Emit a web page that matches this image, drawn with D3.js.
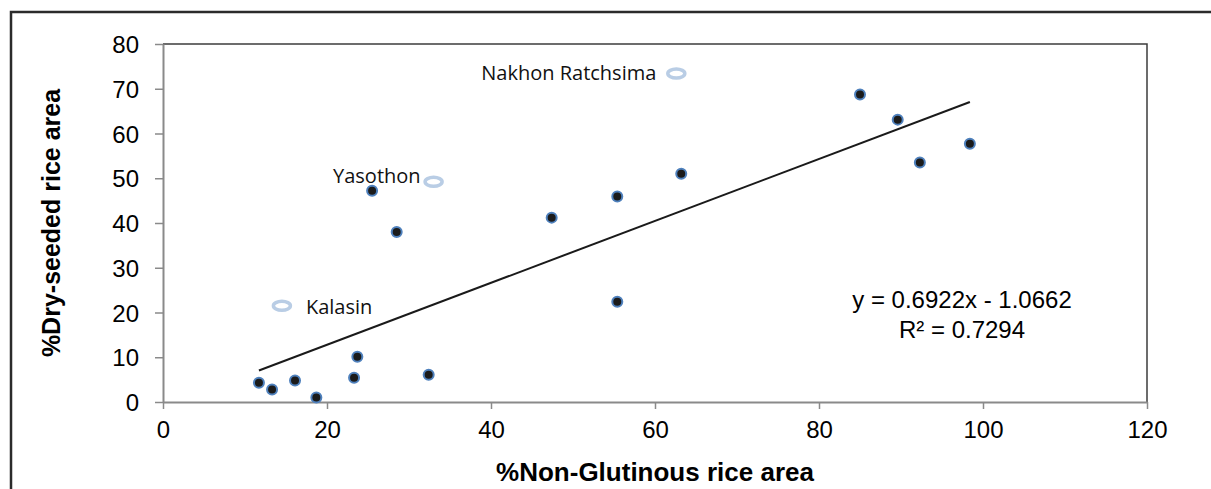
<!DOCTYPE html>
<html>
<head>
<meta charset="utf-8">
<script src="https://cdn.jsdelivr.net/npm/d3@7"></script>
<style>
  body { margin: 0; background: #fff; }
  svg text { font-family: "Liberation Sans", Arial, sans-serif; }
</style>
</head>
<body>
<svg id="chart"></svg>
<script>
// provinces (regression set)
var nonGlutinous = [11.7, 13.3, 16.1, 18.7, 23.3, 23.7, 32.4, 25.5, 28.5, 47.4, 55.4, 63.2, 55.4, 85.0, 89.6, 92.3, 98.4];
var drySeeded = [4.3, 2.8, 4.8, 1.0, 5.4, 10.1, 6.1, 47.2, 38.0, 41.2, 45.9, 51.0, 22.4, 68.7, 63.1, 53.5, 57.7];

// highlighted provinces
var namedProvinces = ["Kalasin", "Yasothon", "Nakhon Ratchsima"];
var namedX = [14.5, 33.0, 62.6];
var namedY = [21.5, 49.2, 73.4];

var xTicks = [0, 20, 40, 60, 80, 100, 120];
var yTicks = [0, 10, 20, 30, 40, 50, 60, 70, 80];

// linear trend
var slope = 0.6922;
var intercept = -1.0662;
var rSquared = 0.7294;

var width = 1211, height = 489;
var margin = { top: 44, right: 64, bottom: 87, left: 163 };
var innerW = width - margin.left - margin.right;
var innerH = height - margin.top - margin.bottom;

var svg = d3.select("#chart").attr("width", width).attr("height", height);

// outer frame (only top and left show)
svg.append("path")
  .attr("d", "M11,489 V12 H1211")
  .attr("fill", "none")
  .attr("stroke", "#2b2b2b")
  .attr("stroke-width", 2.5);

var g = svg.append("g").attr("transform", "translate(" + margin.left + "," + margin.top + ")");

var xScale = d3.scaleLinear().domain([0, 120]).range([0, innerW]);
var yScale = d3.scaleLinear().domain([0, 80]).range([innerH, 0]);

// plot border top/right
g.append("path")
  .attr("d", "M0,0 H" + innerW + " V" + innerH)
  .attr("fill", "none")
  .attr("stroke", "#3c3c3c")
  .attr("stroke-width", 1.5);

var xAxis = d3.axisBottom(xScale).tickValues(xTicks).tickSize(7).tickSizeOuter(0).tickPadding(12);
var gX = g.append("g").attr("transform", "translate(0," + innerH + ")").call(xAxis);
var yAxis = d3.axisLeft(yScale).tickValues(yTicks).tickSize(8).tickSizeOuter(0).tickPadding(16);
var gY = g.append("g").call(yAxis);

[gX, gY].forEach(function (ax) {
  ax.select(".domain").attr("stroke", "#8a8a8a").attr("stroke-width", 2);
  ax.selectAll(".tick line").attr("stroke", "#8a8a8a").attr("stroke-width", 1.5);
  ax.selectAll(".tick text")
    .attr("fill", "#000")
    .style("font-size", "24px")
    .style("font-family", "'Liberation Sans', Arial, sans-serif");
});
gY.selectAll(".tick text").attr("dy", "0.36em");
gX.selectAll(".tick text").attr("dy", "0.71em");

// axis titles
svg.append("text")
  .attr("x", margin.left + innerW / 2)
  .attr("y", 481)
  .attr("text-anchor", "middle")
  .style("font-size", "26px")
  .style("font-weight", "bold")
  .text("%Non-Glutinous rice area");

svg.append("text")
  .attr("transform", "translate(60," + (margin.top + innerH / 2) + ") rotate(-90)")
  .attr("text-anchor", "middle")
  .style("font-size", "25px")
  .style("font-weight", "bold")
  .text("%Dry-seeded rice area");

// trend line across the data range
var xMin = d3.min(nonGlutinous), xMax = d3.max(nonGlutinous);
g.append("line")
  .attr("x1", xScale(xMin)).attr("y1", yScale(slope * xMin + intercept))
  .attr("x2", xScale(xMax)).attr("y2", yScale(slope * xMax + intercept))
  .attr("stroke", "#1a1a1a")
  .attr("stroke-width", 2);

// data points
g.append("g").selectAll("circle")
  .data(d3.range(nonGlutinous.length))
  .enter()
  .append("circle")
  .attr("cx", function (i) { return xScale(nonGlutinous[i]); })
  .attr("cy", function (i) { return yScale(drySeeded[i]); })
  .attr("r", 5)
  .attr("fill", "#1b1b1b")
  .attr("stroke", "#4f81bd")
  .attr("stroke-width", 2);

// highlighted provinces: hollow rings + labels
var named = g.append("g").selectAll("g")
  .data(d3.range(namedProvinces.length))
  .enter()
  .append("g")
  .attr("transform", function (i) { return "translate(" + xScale(namedX[i]) + "," + yScale(namedY[i]) + ")"; });

named.append("ellipse")
  .attr("rx", 8.5).attr("ry", 4.5)
  .attr("fill", "none")
  .attr("stroke", "#b9cde5")
  .attr("stroke-width", 3.5);

named.append("text")
  .attr("x", function (i) { return i === 0 ? 24 : (i === 1 ? -13 : -20); })
  .attr("y", function (i) { return i === 0 ? 8 : (i === 1 ? 1 : 6); })
  .attr("text-anchor", function (i) { return i === 0 ? "start" : "end"; })
  .style("font-family", "'Open Sans', sans-serif")
  .style("font-size", "20px")
  .attr("fill", "#111")
  .text(function (i) { return namedProvinces[i]; });

// equation
var eq = g.append("text")
  .attr("text-anchor", "middle")
  .style("font-size", "24px")
  .attr("fill", "#000");
eq.append("tspan").attr("x", 962 - margin.left).attr("y", 308 - margin.top)
  .text("y = " + slope.toFixed(4) + "x - " + Math.abs(intercept).toFixed(4));
eq.append("tspan").attr("x", 962 - margin.left).attr("y", 338 - margin.top)
  .text("R² = " + rSquared.toFixed(4));
</script>
</body>
</html>
